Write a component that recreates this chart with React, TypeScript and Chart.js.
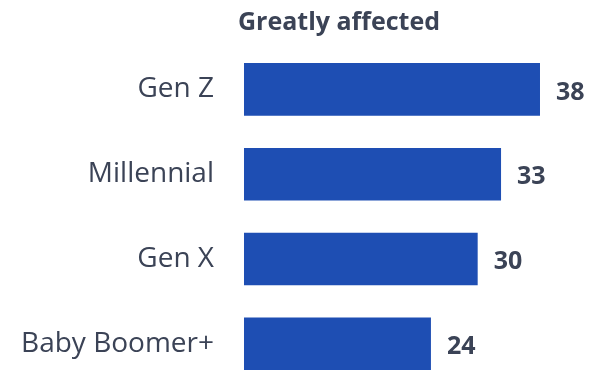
import React, { useEffect, useRef } from "react";
import { Chart, registerables } from "chart.js";

Chart.register(...registerables);

const categories = ["Gen Z", "Millennial", "Gen X", "Baby Boomer+"];
const values = [38, 33, 30, 24];
const titleText = "Greatly affected";

const TEXT = "#3b4356";
const BAR = "#1e4eb3";
const FONT = "'Open Sans', 'Noto Sans', sans-serif";

const valueLabels = {
  id: "valueLabels",
  afterDatasetsDraw(chart: any) {
    const ctx = chart.ctx;
    const meta = chart.getDatasetMeta(0);
    ctx.save();
    ctx.font = `bold 25px ${FONT}`;
    ctx.fillStyle = TEXT;
    ctx.textAlign = "left";
    ctx.textBaseline = "middle";
    meta.data.forEach((bar: any, i: number) => {
      ctx.fillText(String(values[i]), bar.x + 16, bar.y + 3);
    });
    ctx.restore();
  },
};

export default function App() {
  const ref = useRef<HTMLCanvasElement>(null);
  useEffect(() => {
    const chart = new Chart(ref.current!, {
      type: "bar",
      data: {
        labels: categories,
        datasets: [
          {
            data: values,
            backgroundColor: BAR,
            barPercentage: 0.62,
            categoryPercentage: 1,
          },
        ],
      },
      options: {
        indexAxis: "y",
        animation: false,
        responsive: true,
        maintainAspectRatio: false,
        layout: { padding: { top: 0, right: 0, bottom: 0, left: 0 } },
        plugins: {
          legend: { display: false },
          tooltip: { enabled: false },
          title: {
            display: true,
            text: titleText,
            align: "start",
            fullSize: false,
            color: TEXT,
            font: { family: FONT, size: 25, weight: "bold" },
            padding: { top: 8, bottom: 9 },
          },
        },
        scales: {
          x: { display: false, min: -0.77, max: 44.42 },
          y: {
            grid: { display: false, drawTicks: false },
            border: { display: false },
            afterFit: (axis: any) => {
              axis.width = 238;
            },
            ticks: {
              color: TEXT,
              padding: 24,
              font: { family: FONT, size: 28 },
            },
          },
        },
      },
      plugins: [valueLabels],
    });
    return () => chart.destroy();
  }, []);
  return (
    <div style={{ position: "absolute", left: 0, top: 0, width: 590, height: 427, background: "#fff" }}>
      <canvas ref={ref} />
    </div>
  );
}
